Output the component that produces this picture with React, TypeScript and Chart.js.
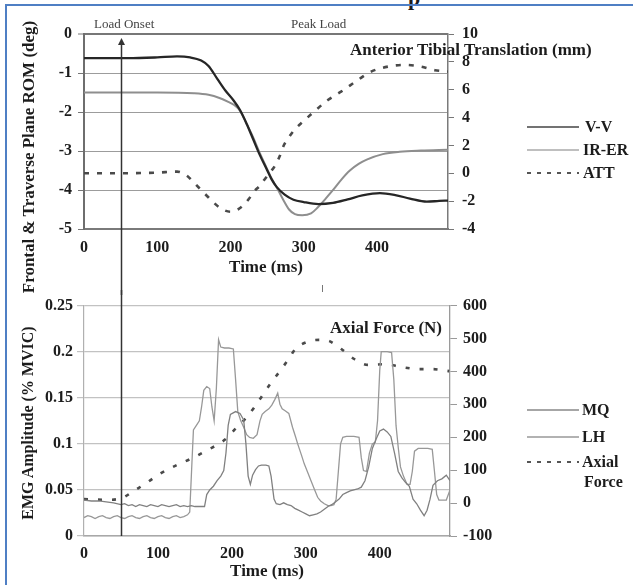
import React, { useEffect, useRef } from 'react';
import { Chart, registerables } from 'chart.js';

Chart.register(...registerables);

// ---------- Top panel: knee rotation (deg) and anterior tibial translation (mm) ----------
const VV_T = [0, 60, 100, 127, 145, 160, 170, 182, 193, 204, 213, 222, 231, 240, 249, 256, 263, 274, 286, 300, 320, 340, 360, 380, 404, 425, 445, 468, 485, 497];
const VV_V = [-0.62, -0.62, -0.6, -0.575, -0.6, -0.68, -0.82, -1.15, -1.45, -1.7, -1.95, -2.3, -2.7, -3.1, -3.45, -3.72, -3.92, -4.12, -4.25, -4.31, -4.36, -4.33, -4.24, -4.14, -4.08, -4.13, -4.22, -4.3, -4.28, -4.27];

const IRER_T = [0, 100, 150, 170, 185, 197, 205, 213, 222, 231, 240, 249, 256, 263, 272, 280, 288, 298, 310, 319, 330, 341, 352, 363, 375, 386, 408, 431, 460, 497];
const IRER_V = [-1.5, -1.5, -1.52, -1.56, -1.64, -1.74, -1.82, -1.97, -2.3, -2.65, -3.05, -3.42, -3.7, -3.93, -4.25, -4.5, -4.62, -4.65, -4.6, -4.45, -4.22, -3.98, -3.72, -3.5, -3.33, -3.22, -3.08, -3.02, -2.99, -2.97];

const ATT_T = [0, 50, 100, 127, 140, 150, 160, 168, 178, 186, 200, 210, 218, 225, 232, 240, 246, 253, 260, 267, 273, 280, 287, 300, 314, 333, 351, 374, 392, 415, 437, 460, 479, 497];
const ATT_V = [0, 0, 0.05, 0.12, -0.15, -0.67, -1.2, -1.63, -2.15, -2.5, -2.76, -2.6, -2.28, -1.85, -1.32, -0.9, -0.48, 0, 0.48, 1.2, 2.03, 2.6, 3.1, 3.75, 4.42, 5.26, 5.86, 6.7, 7.3, 7.66, 7.78, 7.66, 7.4, 7.3];

const TOP_X_TICKS = [0, 100, 200, 300, 400];
const TOP_Y_TICKS = [-5, -4, -3, -2, -1, 0];
const TOP_Y1_TICKS = [-4, -2, 0, 2, 4, 6, 8, 10];

// ---------- Bottom panel: EMG amplitude (% MVIC) and axial force (N) ----------
const MQ_T = [0, 10, 20, 30, 40, 50, 55, 60, 65, 70, 75, 80, 85, 90, 95, 100, 105, 110, 115, 120, 125, 130, 135, 140, 145, 150, 155, 160, 163, 166, 170, 175, 180, 185, 189, 192, 195, 198, 205, 211, 216, 219, 222, 225, 228, 232, 236, 240, 246, 250, 253, 257, 260, 265, 270, 275, 280, 285, 290, 295, 300, 305, 310, 315, 320, 325, 330, 335, 340, 345, 350, 355, 360, 365, 370, 375, 380, 385, 390, 395, 400, 405, 410, 415, 420, 425, 430, 435, 440, 445, 450, 455, 460, 464, 468, 472, 478, 484, 490, 495];
const MQ_V = [0.039, 0.038, 0.038, 0.037, 0.036, 0.034, 0.035, 0.033, 0.034, 0.032, 0.034, 0.033, 0.032, 0.034, 0.033, 0.032, 0.034, 0.033, 0.032, 0.033, 0.034, 0.032, 0.033, 0.032, 0.033, 0.032, 0.032, 0.032, 0.032, 0.045, 0.05, 0.054, 0.06, 0.065, 0.071, 0.09, 0.12, 0.132, 0.135, 0.133, 0.126, 0.1, 0.065, 0.056, 0.066, 0.072, 0.076, 0.077, 0.077, 0.076, 0.065, 0.04, 0.035, 0.034, 0.036, 0.034, 0.033, 0.03, 0.028, 0.026, 0.024, 0.022, 0.023, 0.024, 0.026, 0.029, 0.032, 0.034, 0.037, 0.04, 0.045, 0.047, 0.049, 0.05, 0.051, 0.053, 0.06, 0.075, 0.095, 0.105, 0.114, 0.116, 0.113, 0.108, 0.09, 0.07, 0.063, 0.058, 0.054, 0.04, 0.035, 0.028, 0.022, 0.028, 0.04, 0.055, 0.06, 0.062, 0.066, 0.06];

const LH_T = [0, 5, 10, 15, 20, 25, 30, 35, 40, 45, 50, 55, 60, 65, 70, 75, 80, 85, 90, 95, 100, 105, 110, 115, 120, 125, 130, 135, 140, 143, 146, 148, 152, 156, 159, 162, 166, 170, 173, 176, 179, 182, 185, 190, 196, 202, 205, 208, 212, 216, 220, 224, 229, 234, 238, 241, 245, 250, 254, 258, 262, 265, 268, 272, 277, 282, 286, 289, 294, 298, 303, 307, 312, 316, 320, 325, 330, 334, 338, 341, 344, 347, 350, 355, 365, 372, 375, 378, 382, 386, 390, 394, 397, 400, 402, 410, 416, 419, 422, 425, 428, 432, 437, 441, 444, 447, 452, 465, 471, 474, 477, 480, 490, 495];
const LH_V = [0.02, 0.022, 0.021, 0.019, 0.021, 0.022, 0.02, 0.019, 0.021, 0.022, 0.02, 0.019, 0.021, 0.022, 0.02, 0.019, 0.021, 0.022, 0.02, 0.019, 0.021, 0.022, 0.02, 0.019, 0.021, 0.022, 0.02, 0.021, 0.023, 0.026, 0.08, 0.115, 0.12, 0.125, 0.14, 0.158, 0.162, 0.16, 0.14, 0.125, 0.16, 0.213, 0.205, 0.204, 0.204, 0.203, 0.17, 0.135, 0.125, 0.118, 0.11, 0.107, 0.106, 0.11, 0.125, 0.132, 0.135, 0.138, 0.142, 0.148, 0.155, 0.143, 0.138, 0.136, 0.133, 0.118, 0.108, 0.1, 0.088, 0.078, 0.068, 0.06, 0.05, 0.042, 0.038, 0.035, 0.033, 0.033, 0.034, 0.04, 0.07, 0.1, 0.107, 0.108, 0.108, 0.107, 0.085, 0.071, 0.07, 0.09, 0.1, 0.102, 0.125, 0.18, 0.2, 0.2, 0.199, 0.17, 0.12, 0.096, 0.075, 0.065, 0.056, 0.056, 0.07, 0.092, 0.095, 0.095, 0.094, 0.07, 0.045, 0.039, 0.039, 0.05];

const AX_T = [0, 30, 50, 66, 85, 102, 125, 146, 166, 189, 205, 218, 230, 241, 252, 264, 275, 286, 302, 320, 332, 348, 366, 384, 407, 430, 453, 471, 494];
const AX_V = [12, 10, 14, 35, 62, 88, 115, 136, 160, 190, 226, 256, 290, 326, 362, 398, 432, 468, 490, 496, 492, 468, 437, 420, 422, 413, 407, 407, 401];

const BOT_X_TICKS = [0, 100, 200, 300, 400];
const BOT_Y_TICKS = [0, 0.05, 0.1, 0.15, 0.2, 0.25];
const BOT_Y1_TICKS = [-100, 0, 100, 200, 300, 400, 500, 600];

const LOAD_ONSET_MS = 50;
const PEAK_LOAD_MS = 325;

const SERIF = "'Liberation Serif', 'Times New Roman', serif";
const TICK_FONT = { family: SERIF, size: 16, weight: 'bold' as const };
const TITLE_FONT = { family: SERIF, size: 17, weight: 'bold' as const };
const INK = '#1c1c1c';

const pts = (t: number[], v: number[]) => t.map((x, i) => ({ x, y: v[i] }));
const setTicks = (vals: number[]) => (scale: any) => {
  scale.ticks = vals.map((value) => ({ value }));
};
const fmt = (v: any) => String(Math.round(Number(v) * 1000) / 1000);

const topMarkers = {
  id: 'topMarkers',
  afterDraw(chart: any) {
    const { ctx, scales } = chart;
    const x = Math.round(scales.x.getPixelForValue(LOAD_ONSET_MS)) + 0.5;
    ctx.save();
    ctx.strokeStyle = '#333';
    ctx.lineWidth = 1.5;
    ctx.beginPath();
    ctx.moveTo(x, 44);
    ctx.lineTo(x, chart.height);
    ctx.stroke();
    ctx.fillStyle = '#333';
    ctx.beginPath();
    ctx.moveTo(x, 38);
    ctx.lineTo(x - 3.5, 45);
    ctx.lineTo(x + 3.5, 45);
    ctx.closePath();
    ctx.fill();
    const px = Math.round(scales.x.getPixelForValue(PEAK_LOAD_MS)) + 0.5;
    ctx.strokeStyle = '#777';
    ctx.lineWidth = 1;
    ctx.beginPath();
    ctx.moveTo(px, 285);
    ctx.lineTo(px, 292);
    ctx.stroke();
    ctx.restore();
  },
};

const bottomMarkers = {
  id: 'bottomMarkers',
  afterDraw(chart: any) {
    const { ctx, scales, chartArea } = chart;
    const x = Math.round(scales.x.getPixelForValue(LOAD_ONSET_MS)) + 0.5;
    ctx.save();
    ctx.strokeStyle = '#333';
    ctx.lineWidth = 1.5;
    ctx.beginPath();
    ctx.moveTo(x, 0);
    ctx.lineTo(x, chartArea.bottom);
    ctx.stroke();
    ctx.restore();
  },
};

function TopChart() {
  const ref = useRef<HTMLCanvasElement | null>(null);
  useEffect(() => {
    if (!ref.current) return;
    const chart = new Chart(ref.current, {
      type: 'line',
      data: {
        datasets: [
          { label: 'V-V', data: pts(VV_T, VV_V), borderColor: '#262626', borderWidth: 2.3, yAxisID: 'y', cubicInterpolationMode: 'monotone' },
          { label: 'IR-ER', data: pts(IRER_T, IRER_V), borderColor: '#8e8e8e', borderWidth: 2, yAxisID: 'y', cubicInterpolationMode: 'monotone' },
          { label: 'ATT', data: pts(ATT_T, ATT_V), borderColor: '#4a4a4a', borderWidth: 2.6, borderDash: [5, 8], yAxisID: 'y1', cubicInterpolationMode: 'monotone' },
        ],
      },
      options: {
        animation: false,
        responsive: false,
        maintainAspectRatio: false,
        layout: { padding: { top: 34, left: 0, right: 0, bottom: 0 } },
        elements: { point: { radius: 0 } },
        plugins: { legend: { display: false }, tooltip: { enabled: false } },
        scales: {
          x: {
            type: 'linear', min: 0, max: 497,
            afterBuildTicks: setTicks(TOP_X_TICKS),
            afterFit: (s: any) => { s.height = 66; },
            grid: { display: false, drawTicks: false },
            border: { display: true, color: '#7a7a7a', width: 2 },
            ticks: { padding: 9, font: TICK_FONT, color: INK, maxRotation: 0, autoSkip: false, callback: fmt },
            title: { display: true, text: 'Time (ms)', font: TITLE_FONT, color: INK, padding: { top: 0, bottom: 17 } },
          },
          y: {
            type: 'linear', position: 'left', min: -5, max: 0,
            afterBuildTicks: setTicks(TOP_Y_TICKS),
            afterFit: (s: any) => { s.width = 84; },
            grid: {
              color: (c: any) => (c.tick && c.tick.value === 0 ? '#777' : '#9c9c9c'),
              lineWidth: (c: any) => (c.tick && c.tick.value === 0 ? 2 : 1),
              tickLength: 6, tickColor: '#777', tickWidth: 1,
            },
            border: { display: true, color: '#6e6e6e', width: 2 },
            ticks: { padding: 6, font: TICK_FONT, color: INK, callback: fmt },
          },
          y1: {
            type: 'linear', position: 'right', min: -4, max: 10,
            afterBuildTicks: setTicks(TOP_Y1_TICKS),
            afterFit: (s: any) => { s.width = 185; },
            grid: { drawOnChartArea: false, tickLength: 6, color: '#777' },
            border: { display: true, color: '#7a7a7a', width: 1.5 },
            ticks: { padding: 8, font: TICK_FONT, color: INK, callback: fmt },
          },
        },
      } as any,
      plugins: [topMarkers],
    });
    return () => chart.destroy();
  }, []);
  return <canvas ref={ref} width={633} height={295} style={{ position: 'absolute', left: 0, top: 0 }} />;
}

function BottomChart() {
  const ref = useRef<HTMLCanvasElement | null>(null);
  useEffect(() => {
    if (!ref.current) return;
    const chart = new Chart(ref.current, {
      type: 'line',
      data: {
        datasets: [
          { label: 'MQ', data: pts(MQ_T, MQ_V), borderColor: '#808080', borderWidth: 1.3, yAxisID: 'y' },
          { label: 'LH', data: pts(LH_T, LH_V), borderColor: '#989898', borderWidth: 1.3, yAxisID: 'y' },
          { label: 'Axial Force', data: pts(AX_T, AX_V), borderColor: '#4a4a4a', borderWidth: 2.6, borderDash: [4, 10], yAxisID: 'y1', cubicInterpolationMode: 'monotone' },
        ],
      },
      options: {
        animation: false,
        responsive: false,
        maintainAspectRatio: false,
        layout: { padding: { top: 14, left: 0, right: 0, bottom: 0 } },
        elements: { point: { radius: 0 } },
        plugins: { legend: { display: false }, tooltip: { enabled: false } },
        scales: {
          x: {
            type: 'linear', min: 0, max: 495,
            afterBuildTicks: setTicks(BOT_X_TICKS),
            afterFit: (s: any) => { s.height = 49; },
            grid: { display: false, drawTicks: false },
            border: { display: true, color: '#a8a8a8', width: 1.5 },
            ticks: { padding: 8, font: TICK_FONT, color: INK, maxRotation: 0, autoSkip: false, callback: fmt },
            title: { display: true, text: 'Time (ms)', font: TITLE_FONT, color: INK, padding: { top: 0, bottom: 3 } },
          },
          y: {
            type: 'linear', position: 'left', min: 0, max: 0.25,
            afterBuildTicks: setTicks(BOT_Y_TICKS),
            afterFit: (s: any) => { s.width = 84; },
            grid: { color: '#c2c2c2', lineWidth: 1.2, tickLength: 7 },
            border: { display: true, color: '#b0b0b0', width: 1.2 },
            ticks: { padding: 4, font: TICK_FONT, color: INK, callback: fmt },
          },
          y1: {
            type: 'linear', position: 'right', min: -100, max: 600,
            afterBuildTicks: setTicks(BOT_Y1_TICKS),
            afterFit: (s: any) => { s.width = 183; },
            grid: { drawOnChartArea: false, tickLength: 7, color: '#9a9a9a' },
            border: { display: true, color: '#9a9a9a', width: 1.3 },
            ticks: { padding: 6, font: TICK_FONT, color: INK, callback: fmt },
          },
        },
      } as any,
      plugins: [bottomMarkers],
    });
    return () => chart.destroy();
  }, []);
  return <canvas ref={ref} width={633} height={295} style={{ position: 'absolute', left: 0, top: 290 }} />;
}

const txt = (extra: React.CSSProperties): React.CSSProperties => ({
  position: 'absolute',
  fontFamily: SERIF,
  fontWeight: 'bold',
  color: INK,
  whiteSpace: 'nowrap',
  lineHeight: '20px',
  ...extra,
});

function LegendLine({ left, top, color, dashed, width }: { left: number; top: number; color: string; dashed?: boolean; width: number }) {
  return (
    <svg style={{ position: 'absolute', left, top: top - 3 }} width={52} height={6}>
      <line x1={0} y1={3} x2={52} y2={3} stroke={color} strokeWidth={width} strokeDasharray={dashed ? '4 6' : undefined} />
    </svg>
  );
}

export default function App() {
  return (
    <div style={{ position: 'absolute', left: 0, top: 0, width: 633, height: 585, background: '#fff', overflow: 'hidden' }}>
      <div style={{ position: 'absolute', left: 408, top: -13, fontFamily: SERIF, fontWeight: 'bold', fontSize: 22, lineHeight: '22px', color: INK }}>p</div>
      <TopChart />
      <BottomChart />
      <div style={{ position: 'absolute', left: 5, top: 4, width: 640, height: 600, borderTop: '2.5px solid #4f7fc4', borderLeft: '2.5px solid #4f7fc4' }} />

      <div style={txt({ left: 94, top: 14, fontSize: 13, fontWeight: 'normal', color: '#444' })}>Load Onset</div>
      <div style={txt({ left: 291, top: 14, fontSize: 13, fontWeight: 'normal', color: '#444' })}>Peak Load</div>

      <div style={txt({ left: 29, top: 157, fontSize: 17, transform: 'translate(-50%, -50%) rotate(-90deg)' })}>Frontal &amp; Traverse Plane ROM (deg)</div>
      <div style={txt({ left: 28, top: 423, fontSize: 16, transform: 'translate(-50%, -50%) rotate(-90deg)' })}>EMG Amplitude (% MVIC)</div>

      <div style={txt({ left: 350, top: 40, fontSize: 17 })}>Anterior Tibial Translation (mm)</div>
      <div style={txt({ left: 330, top: 318, fontSize: 17 })}>Axial Force (N)</div>

      <LegendLine left={527} top={127} color="#444" width={1.5} />
      <div style={txt({ left: 585, top: 117, fontSize: 16 })}>V-V</div>
      <LegendLine left={527} top={150} color="#aaa" width={1.5} />
      <div style={txt({ left: 583, top: 140, fontSize: 16 })}>IR-ER</div>
      <LegendLine left={527} top={173} color="#555" width={2} dashed />
      <div style={txt({ left: 583, top: 163, fontSize: 16 })}>ATT</div>

      <LegendLine left={527} top={410} color="#888" width={1.3} />
      <div style={txt({ left: 582, top: 400, fontSize: 16 })}>MQ</div>
      <LegendLine left={527} top={437} color="#999" width={1.3} />
      <div style={txt({ left: 582, top: 427, fontSize: 16 })}>LH</div>
      <LegendLine left={527} top={462} color="#555" width={2} dashed />
      <div style={txt({ left: 582, top: 452, fontSize: 16 })}>Axial</div>
      <div style={txt({ left: 584, top: 472, fontSize: 16 })}>Force</div>
    </div>
  );
}
